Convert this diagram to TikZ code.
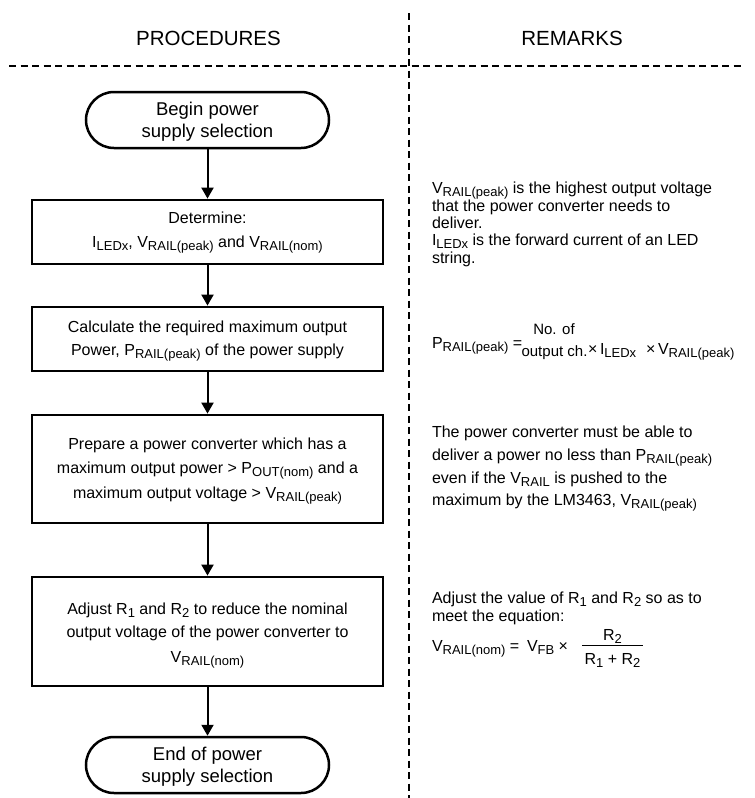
\documentclass[tikz,border=0pt]{standalone}
\usepackage{fontspec}
\setmainfont{Liberation Sans}
\usetikzlibrary{arrows.meta}
\newcommand{\mysub}[1]{\raisebox{-3pt}{\fontsize{13}{13}\selectfont #1}}
\begin{document}
\begin{tikzpicture}[x=1pt,y=-1pt,
  txt/.style={font=\fontsize{16}{16}\selectfont, inner sep=0pt, outer sep=0pt, anchor=base},
  txtl/.style={txt, anchor=base west},
  termtxt/.style={txt, font=\fontsize{18.5}{18.5}\selectfont},
  fractxt/.style={txt, font=\fontsize{15}{15}\selectfont},
  hdr/.style={font=\fontsize{20.5}{20.5}\selectfont, inner sep=0pt},
  procbox/.style={draw, line width=2.8pt, minimum width=351pt, inner sep=0pt},
  termbox/.style={draw, line width=2.5pt, rounded corners=28pt, minimum width=243pt, minimum height=56pt, inner sep=0pt},
  flow/.style={line width=2pt, -{Triangle[length=11pt,width=12pt]}},
  divider/.style={line width=1.3pt, dash pattern=on 7pt off 4.5pt},
  fracbar/.style={line width=1pt}]
\useasboundingbox (0,0) rectangle (755,798);
% headers and dividers
\node[hdr] (hproc) at (208.5,38) {PROCEDURES};
\node[hdr] (hrem) at (572,38) {REMARKS};
\draw[divider] (9,66) -- (741,66);
\draw[divider] (409,13) -- (409,798);
% flow boxes
\node[termbox] (begin) at (207.5,120) {};
\node[procbox, minimum height=64pt] (det) at (207.5,232) {};
\node[procbox, minimum height=64pt] (calc) at (207.5,339) {};
\node[procbox, minimum height=108pt] (prep) at (207.5,469) {};
\node[procbox, minimum height=109pt] (adj) at (207.5,631.5) {};
\node[termbox] (end) at (207.5,765) {};
% connectors
\draw[flow] (begin.south) -- (det.north);
\draw[flow] (det.south) -- (calc.north);
\draw[flow] (calc.south) -- (prep.north);
\draw[flow] (prep.south) -- (adj.north);
\draw[flow] (adj.south) -- (end.north);
% box texts
\node[termtxt] (tb1) at (207.5,115.5) {Begin power};
\node[termtxt] (tb2) at (207.5,137.5) {supply selection};
\node[txt] (td1) at (207.5,223) {Determine:};
\node[txt] (td2) at (207.5,247) {I\mysub{LEDx}, V\mysub{RAIL(peak)} and V\mysub{RAIL(nom)}};
\node[txt] (tc1) at (207.5,332) {Calculate the required maximum output};
\node[txt] (tc2) at (207.5,355) {Power, P\mysub{RAIL(peak)} of the power supply};
\node[txt] (tp1) at (207.5,449.5) {Prepare a power converter which has a};
\node[txt] (tp2) at (207.5,473.5) {maximum output power > P\mysub{OUT(nom)} and a};
\node[txt] (tp3) at (207.5,498) {maximum output voltage > V\mysub{RAIL(peak)}};
\node[txt] (ta1) at (207.5,614) {Adjust R\mysub{1} and R\mysub{2} to reduce the nominal};
\node[txt] (ta2) at (207.5,637) {output voltage of the power converter to};
\node[txt] (ta3) at (207.5,662) {V\mysub{RAIL(nom)}};
\node[termtxt] (te1) at (207.5,760.5) {End of power};
\node[termtxt] (te2) at (207.5,782.5) {supply selection};
% remarks block 1
\node[txtl] (r1a) at (432,193.5) {V\mysub{RAIL(peak)} is the highest output voltage};
\node[txtl] (r1b) at (432,211.5) {that the power converter needs to};
\node[txtl] (r1c) at (432,228) {deliver.};
\node[txtl] (r1d) at (432,245) {I\mysub{LEDx} is the forward current of an LED};
\node[txtl] (r1e) at (432,263) {string.};
% remarks block 2
\node[txtl] (r2a) at (432,348) {P\mysub{RAIL(peak)} =};
\node[fractxt] (r2b) at (554,334) {No. of};
\node[fractxt] (r2c) at (554.5,356) {output ch.};
\node[txtl] (r2d) at (588,354) {×};
\node[txtl] (r2e) at (600,354) {I\mysub{LEDx}};
\node[txtl] (r2f) at (646,354) {×};
\node[txtl] (r2g) at (658,354) {V\mysub{RAIL(peak)}};
% remarks block 3
\node[txtl] (r3a) at (432,437) {The power converter must be able to};
\node[txtl] (r3b) at (432,460) {deliver a power no less than P\mysub{RAIL(peak)}};
\node[txtl] (r3c) at (432,483) {even if the V\mysub{RAIL} is pushed to the};
\node[txtl] (r3d) at (432,505) {maximum by the LM3463, V\mysub{RAIL(peak)}};
% remarks block 4
\node[txtl] (r4a) at (432,603) {Adjust the value of R\mysub{1} and R\mysub{2} so as to};
\node[txtl] (r4b) at (432,621) {meet the equation:};
\node[txtl] (r4c) at (432,651) {V\mysub{RAIL(nom)} =};
\node[txtl] (r4d) at (527,651) {V\mysub{FB} ×};
\node[txt] (r4num) at (612.5,640) {R\mysub{2}};
\draw[fracbar] (582,645.5) -- (643,645.5);
\node[txt] (r4den) at (612.5,664) {R\mysub{1} + R\mysub{2}};
\end{tikzpicture}
\end{document}
